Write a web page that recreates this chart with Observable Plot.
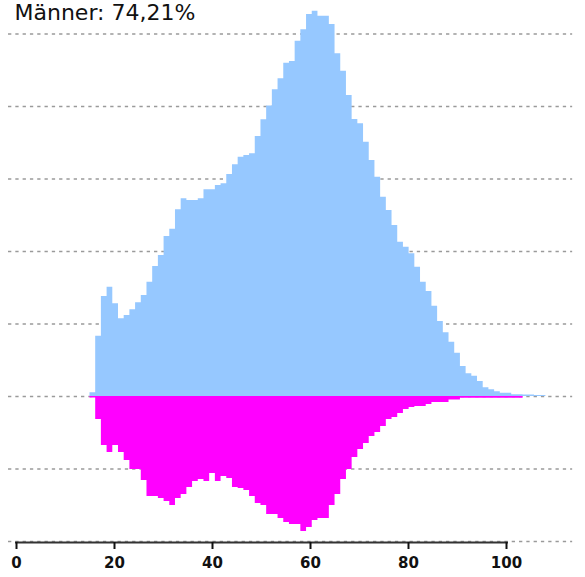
<!DOCTYPE html>
<html>
<head>
<meta charset="utf-8">
<script src="https://cdn.jsdelivr.net/npm/d3@7"></script>
<script src="https://cdn.jsdelivr.net/npm/@observablehq/plot@0.6"></script>
<style>
  html, body { margin: 0; padding: 0; background: #fff; }
  #wrap { position: relative; width: 585px; height: 577px; }
  #title { position: absolute; left: 14.5px; top: 2px; font-family: "DejaVu Sans", Verdana, sans-serif; font-size: 22px; line-height: 22px; color: #111; white-space: nowrap; }
  #wrap svg g[aria-label="x-axis tick label"] { font-weight: bold !important; font-size: 15px !important; }
</style>
</head>
<body>
<div id="wrap"><div id="title"></div></div>
<script>
// ---- data ----
const titleText = "Männer: 74,21%";
// men per bin (upwards), arbitrary count units, gridline step = 1000
const men = [51, 832, 1379, 1508, 1279, 1072, 1117, 1196, 1292, 1393,
  1577, 1793, 1945, 2207, 2308, 2575, 2727, 2703, 2703, 2727,
  2851, 2851, 2910, 2934, 3062, 3196, 3301, 3324, 3348, 3586,
  3817, 4007, 4230, 4382, 4597, 4621, 4901, 5058, 5269, 5315,
  5246, 5246, 5131, 4727, 4487, 4152, 3821, 3761, 3508, 3255,
  3025, 2749, 2566, 2359, 2128, 2059, 1968, 1783, 1577, 1448,
  1246, 1034, 879, 749, 597, 414, 313, 280, 207, 120,
  92, 65, 46, 46, 23, 23, 21, 21, 14, 14];
// women per bin (downwards)
const women = [21, 317, 676, 772, 676, 772, 883, 1007, 1007, 1159,
  1379, 1379, 1407, 1448, 1503, 1407, 1352, 1255, 1172, 1145,
  1172, 1062, 1172, 1103, 1131, 1255, 1269, 1297, 1379, 1476,
  1503, 1628, 1628, 1683, 1738, 1766, 1766, 1862, 1807, 1710,
  1683, 1683, 1503, 1352, 1145, 1007, 841, 731, 648, 552,
  497, 414, 317, 290, 234, 179, 152, 138, 138, 110,
  83, 83, 83, 48, 48, 25, 25, 25, 25, 25,
  25, 25, 25, 25, 25, 25];
const xTicks = [0, 20, 40, 60, 80, 100];
const gridValues = [-2000, -1000, 0, 1000, 2000, 3000, 4000, 5000];

// bin geometry in axis units
const binStart = 15, binWidth = 1.163;

function steps(values, sign) {
  const pts = values.map((v, i) => ({x: binStart + i * binWidth, y: sign * v}));
  pts.push({x: binStart + values.length * binWidth, y: sign * values[values.length - 1]});
  return pts;
}

document.getElementById("title").textContent = titleText;

const chart = Plot.plot({
  width: 585,
  height: 577,
  marginLeft: 16,
  marginRight: 79,
  marginTop: 33.5,
  marginBottom: 36,
  style: {fontFamily: "'DejaVu Sans', Verdana, sans-serif", background: "transparent"},
  x: {domain: [0, 100], axis: null, label: null},
  y: {domain: [-2000, 5000], axis: null, label: null},
  marks: [
    Plot.ruleY(gridValues, {x1: -1.63, x2: 113.5, stroke: "#9a9a9a", strokeWidth: 1.4, strokeDasharray: "3.3,4"}),
    Plot.areaY(steps(men, 1), {x: "x", y1: 0, y2: "y", curve: "step-after", fill: "#96c8ff"}),
    Plot.areaY(steps(women, -1), {x: "x", y1: 0, y2: "y", curve: "step-after", fill: "#ff00ff"}),
    Plot.ruleY([-2000], {x1: -0.2, x2: 100.4, stroke: "#333", strokeWidth: 2, dy: 1}),
    Plot.axisX(xTicks, {tickSize: 7, tickPadding: 8, fontSize: 15, fontWeight: "bold", color: "#111", strokeWidth: 2, dy: 1, label: null})
  ]
});
document.getElementById("wrap").appendChild(chart);
</script>
</body>
</html>
